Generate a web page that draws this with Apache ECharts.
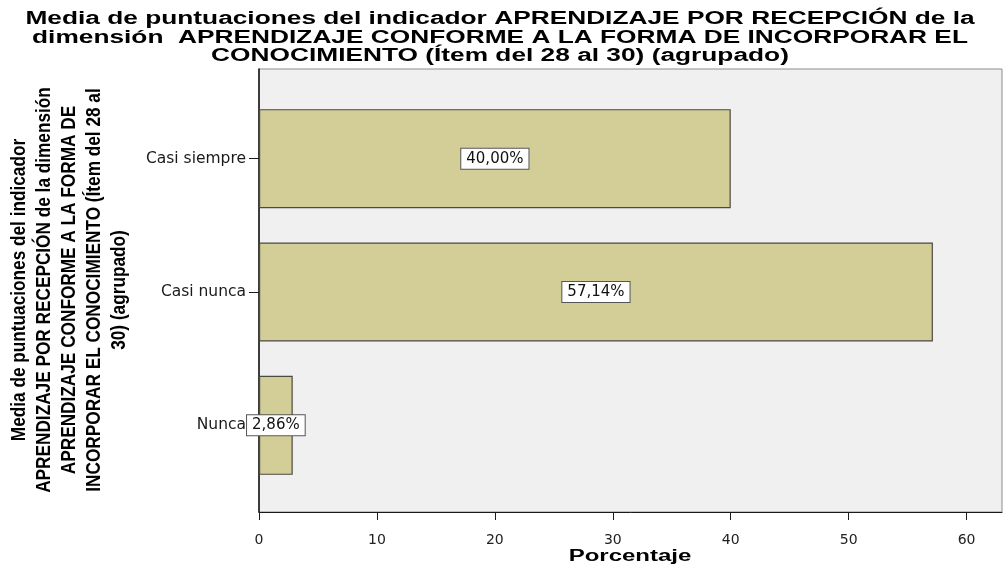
<!DOCTYPE html>
<html>
<head>
<meta charset="utf-8">
<script src="https://cdn.jsdelivr.net/npm/echarts@6/dist/echarts.min.js"></script>
<style>
  html, body { margin: 0; padding: 0; background: #ffffff; }
  #chart { width: 1005px; height: 567px; }
</style>
</head>
<body>
<div id="chart"></div>
<script>
// Categories and their percentages
const categories = ['Casi siempre', 'Casi nunca', 'Nunca'];
const percentages = [40.00, 57.14, 2.86];

// Horizontal axis ticks and extent
const xTicks = [0, 10, 20, 30, 40, 50, 60];
const xMax = 63;

// Texts
const titleLines = [
  'Media de puntuaciones del indicador APRENDIZAJE POR RECEPCIÓN de la',
  'dimensión  APRENDIZAJE CONFORME A LA FORMA DE INCORPORAR EL',
  'CONOCIMIENTO (Ítem del 28 al 30) (agrupado)'
];
const yTitleLines = [
  'Media de puntuaciones del indicador',
  'APRENDIZAJE POR RECEPCIÓN de la dimensión',
  'APRENDIZAJE CONFORME A LA FORMA DE',
  'INCORPORAR EL CONOCIMIENTO (Ítem del 28 al',
  '30) (agrupado)'
];
const xTitle = 'Porcentaje';

const fmtPct = v => v.toFixed(2).replace('.', ',') + '%';

const chart = echarts.init(document.getElementById('chart'), null, { renderer: 'canvas' });

chart.setOption({
  animation: false,
  backgroundColor: '#ffffff',
  grid: [
    // plot frame with the horizontal axis
    { left: 259, right: 3, top: 69, bottom: 55, show: true,
      backgroundColor: '#f0f0f0', borderColor: '#8c8c8c', borderWidth: 1 },
    // band area holding the bars
    { left: 259, right: 3, top: 92, bottom: 75 }
  ],
  xAxis: [
    {
      gridIndex: 0, type: 'value', min: 0, max: xMax, interval: 10,
      splitLine: { show: false },
      axisLine: { show: true, lineStyle: { color: '#1a1a1a', width: 1 } },
      axisTick: { show: true, length: 8, customValues: xTicks, lineStyle: { color: '#1a1a1a' } },
      axisLabel: {
        showMaxLabel: false, margin: 21, color: '#222',
        fontFamily: 'DejaVu Sans', fontSize: 14,
        formatter: v => (xTicks.indexOf(v) >= 0 ? String(v) : '')
      }
    },
    {
      gridIndex: 1, type: 'value', min: 0, max: xMax, show: false,
      splitLine: { show: false }
    }
  ],
  yAxis: [
    {
      gridIndex: 0, type: 'value', min: 0, max: 1,
      splitLine: { show: false }, axisTick: { show: false }, axisLabel: { show: false },
      axisLine: { show: true, lineStyle: { color: '#1a1a1a', width: 1.6 } }
    },
    {
      gridIndex: 1, type: 'category', data: categories, inverse: true,
      axisLine: { show: false },
      axisTick: { show: true, alignWithLabel: true, length: 10, lineStyle: { color: '#1a1a1a' } },
      axisLabel: { margin: 13, color: '#1a1a1a', fontFamily: 'DejaVu Sans', fontSize: 15.5 }
    }
  ],
  series: [{
    type: 'bar',
    xAxisIndex: 1,
    yAxisIndex: 1,
    data: percentages,
    barWidth: 99,
    itemStyle: { color: '#d3ce98', borderColor: '#4a4a42', borderWidth: 1.2 },
    label: {
      show: true,
      position: 'inside',
      formatter: p => fmtPct(p.value),
      color: '#111',
      fontFamily: 'DejaVu Sans',
      fontSize: 15,
      backgroundColor: '#ffffff',
      borderColor: '#555555',
      borderWidth: 1,
      padding: [3, 5, 2, 5]
    }
  }],
  graphic: [
    {
      type: 'text', x: 500, y: 38, scaleX: 1.46,
      style: {
        text: titleLines.join('\n'),
        fontFamily: 'Liberation Sans', fontWeight: 'bold', fontSize: 18,
        lineHeight: 18.5, align: 'center', verticalAlign: 'middle', fill: '#000'
      }
    },
    {
      type: 'text', x: 69, y: 290, rotation: Math.PI / 2, scaleX: 0.82,
      style: {
        text: yTitleLines.join('\n'),
        fontFamily: 'Liberation Sans', fontWeight: 'bold', fontSize: 21,
        lineHeight: 25, align: 'center', verticalAlign: 'middle', fill: '#000'
      }
    },
    {
      type: 'text', x: 630, y: 557, scaleX: 1.5,
      style: {
        text: xTitle,
        fontFamily: 'Liberation Sans', fontWeight: 'bold', fontSize: 16,
        align: 'center', verticalAlign: 'middle', fill: '#000'
      }
    }
  ]
});
</script>
</body>
</html>
